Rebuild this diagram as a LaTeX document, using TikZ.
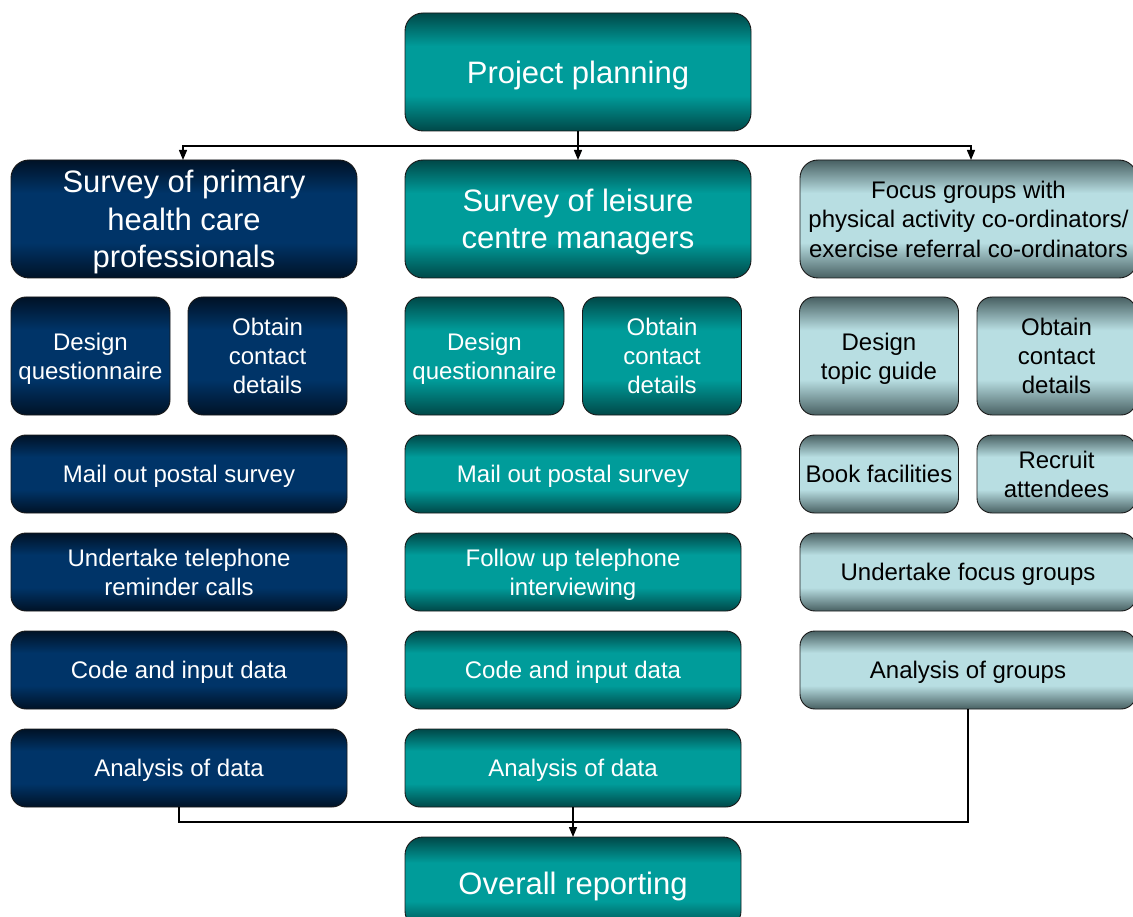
\documentclass[tikz,border=0pt]{standalone}
\usepackage{fontspec}
\setmainfont{Liberation Sans}
\usetikzlibrary{arrows.meta}

% colour families: dark edge tone and light centre tone
\definecolor{navyD}{RGB}{0,18,38}
\definecolor{navyM}{RGB}{0,52,104}
\definecolor{tealD}{RGB}{0,72,72}
\definecolor{tealM}{RGB}{0,156,154}
\definecolor{paleD}{RGB}{72,96,98}
\definecolor{paleM}{RGB}{184,222,226}
\definecolor{edge}{RGB}{25,25,25}

% vertical shadings: dark at top and bottom, light band in the middle
\pgfdeclareverticalshading{navyshade}{100bp}{color(0bp)=(navyD); color(25bp)=(navyD); color(40bp)=(navyM); color(61bp)=(navyM); color(75bp)=(navyD); color(100bp)=(navyD)}
\pgfdeclareverticalshading{tealshade}{100bp}{color(0bp)=(tealD); color(25bp)=(tealD); color(40bp)=(tealM); color(61bp)=(tealM); color(75bp)=(tealD); color(100bp)=(tealD)}
\pgfdeclareverticalshading{paleshade}{100bp}{color(0bp)=(paleD); color(25bp)=(paleD); color(40bp)=(paleM); color(61bp)=(paleM); color(75bp)=(paleD); color(100bp)=(paleD)}

% fixed line box (font ascent / descent) so text centres independently of descenders
\newcommand{\lineTop}{\rule{0pt}{0.93em}}
\newcommand{\lineBot}{\rule[-0.212em]{0pt}{0pt}}

\tikzset{
  box/.style={draw=edge, line width=0.9pt, rounded corners=15pt, inner sep=0pt,
    outer sep=0pt, align=center, font=\fontsize{24}{29}\selectfont,
    execute at begin node=\lineTop, execute at end node=\lineBot},
  bigtext/.style={font=\fontsize{31}{37.5}\selectfont, rounded corners=18pt},
  navybox/.style={box, shade, shading=navyshade, text=white},
  tealbox/.style={box, shade, shading=tealshade, text=white},
  palebox/.style={box, shade, shading=paleshade, text=black},
  wide/.style={minimum width=336pt, minimum height=78pt},
  half/.style={minimum width=159pt, minimum height=118pt},
  halfshort/.style={minimum width=159pt, minimum height=78pt},
  head/.style={minimum width=346pt, minimum height=118pt},
  link/.style={line width=1.3pt, draw=black},
  arr/.style={link, -{Triangle[width=8pt,length=10pt]}}
}

\begin{document}
\begin{tikzpicture}[x=1pt, y=-1pt]
\useasboundingbox (0,0) rectangle (1133,917);
\clip (0,0) rectangle (1133,917);

% top level
\node[tealbox, bigtext, head] (pp) at (578,72) {Project planning};

% three study strands
\node[navybox, bigtext, head] (s1) at (184,219) {\lineTop Survey of primary\\health care\\professionals};
\node[tealbox, bigtext, head] (s2) at (578,219) {\lineTop Survey of leisure\\centre managers};
\node[palebox, minimum width=337pt, minimum height=118pt, rounded corners=18pt,
      font=\fontsize{24}{29.5}\selectfont] (s3) at (968.5,219)
      {\lineTop Focus groups with\\physical activity co-ordinators/\\exercise referral co-ordinators};

% preparation steps
\node[navybox, half] (l1a) at (90.5,356) {\lineTop Design\\questionnaire};
\node[navybox, half] (l1b) at (267.5,356) {\lineTop Obtain\\contact\\details};
\node[tealbox, half] (m1a) at (484.5,356) {\lineTop Design\\questionnaire};
\node[tealbox, half] (m1b) at (662,356) {\lineTop Obtain\\contact\\details};
\node[palebox, half] (r1a) at (879,356) {\lineTop Design\\topic guide};
\node[palebox, half] (r1b) at (1056.5,356) {\lineTop Obtain\\contact\\details};

% fieldwork
\node[navybox, wide] (l2) at (179,474) {Mail out postal survey};
\node[tealbox, wide] (m2) at (573,474) {Mail out postal survey};
\node[palebox, halfshort] (r2a) at (879,474) {Book facilities};
\node[palebox, halfshort] (r2b) at (1056.5,474) {\lineTop Recruit\\attendees};

\node[navybox, wide] (l3) at (179,572) {\lineTop Undertake telephone\\reminder calls};
\node[tealbox, wide] (m3) at (573,572) {\lineTop Follow up telephone\\interviewing};
\node[palebox, wide] (r3) at (968,572) {Undertake focus groups};

\node[navybox, wide] (l4) at (179,670) {Code and input data};
\node[tealbox, wide] (m4) at (573,670) {Code and input data};
\node[palebox, wide] (r4) at (968,670) {Analysis of groups};

\node[navybox, wide] (l5) at (179,768) {Analysis of data};
\node[tealbox, wide] (m5) at (573,768) {Analysis of data};

% final output
\node[tealbox, bigtext, minimum width=336pt, minimum height=92pt] (rep) at (573,883) {Overall reporting};

% distribution from planning
\coordinate (split) at (578,146);
\draw[arr] (pp.south) -- (s2.north);
\draw[arr] (split) -| ([xshift=-1pt]s1.north);
\draw[arr] (split) -| ([xshift=2.5pt]s3.north);

% collection into reporting
\coordinate (merge) at (573,822);
\draw[link] (l5.south) |- (merge) -| (r4.south);
\draw[arr] (m5.south) -- (rep.north);
\end{tikzpicture}
\end{document}
